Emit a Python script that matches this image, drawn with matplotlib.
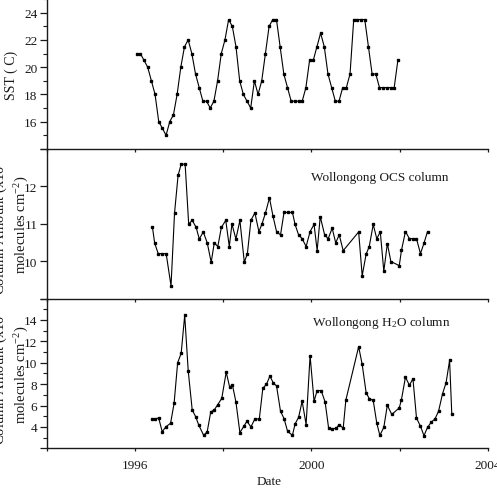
# SST and Wollongong OCS / H2O column time series, three stacked panels
import numpy as np
import matplotlib
matplotlib.use("Agg")
import matplotlib.pyplot as plt
from matplotlib.ticker import MultipleLocator

plt.rcParams['font.family'] = ['Liberation Serif', 'DejaVu Serif']
plt.rcParams['font.size'] = 9.5
plt.rcParams['mathtext.fontset'] = 'custom'
plt.rcParams['mathtext.rm'] = 'Liberation Serif'
plt.rcParams['mathtext.it'] = 'Liberation Serif:italic'

# SST, monthly from Jan 1996 to Dec 2001
sst_vals = [21, 21, 20.5, 20, 19, 18, 16, 15.5, 15, 16, 16.5, 18,
            20, 21.5, 22, 21, 19.5, 18.5, 17.5, 17.5, 17, 17.5, 19, 21,
            22, 23.5, 23, 21.5, 19, 18, 17.5, 17, 19, 18, 19, 21,
            23, 23.5, 23.5, 21.5, 19.5, 18.5, 17.5, 17.5, 17.5, 17.5, 18.5, 20.5,
            20.5, 21.5, 22.5, 21.5, 19.5, 18.5, 17.5, 17.5, 18.5, 18.5, 19.5, 23.5,
            23.5, 23.5, 23.5, 21.5, 19.5, 19.5, 18.5, 18.5, 18.5, 18.5, 18.5, 20.5]
sst_dates = 1996 + (np.arange(len(sst_vals)) + 0.5) / 12

# OCS column
ocs_dates = [1996.40, 1996.45, 1996.53, 1996.62, 1996.71, 1996.82, 1996.90, 1996.98,
             1997.05, 1997.14, 1997.22, 1997.30, 1997.39, 1997.46, 1997.55, 1997.64,
             1997.73, 1997.80, 1997.88, 1997.96,
             1998.06, 1998.14, 1998.20, 1998.29, 1998.38, 1998.48, 1998.55, 1998.63,
             1998.72, 1998.81, 1998.88, 1998.96,
             1999.05, 1999.13, 1999.21, 1999.30, 1999.38, 1999.48, 1999.57, 1999.63,
             1999.71, 1999.79, 1999.88, 1999.97,
             2000.06, 2000.13, 2000.20, 2000.30, 2000.38, 2000.47, 2000.55, 2000.63, 2000.72,
             2001.07, 2001.15, 2001.24, 2001.31, 2001.40, 2001.48, 2001.56, 2001.64,
             2001.72, 2001.80,
             2001.99, 2002.04, 2002.13, 2002.22, 2002.30, 2002.38, 2002.47, 2002.55, 2002.63]
ocs_vals = [10.90, 10.48, 10.20, 10.20, 10.20, 9.34, 11.29, 12.29,
            12.59, 12.59, 10.99, 11.09, 10.90, 10.59, 10.78, 10.49,
            9.97, 10.49, 10.39, 10.90,
            11.09, 10.39, 10.99, 10.59, 11.09, 9.97, 10.20, 11.09,
            11.29, 10.79, 10.99, 11.29,
            11.69, 11.20, 10.79, 10.70, 11.30, 11.30, 11.30, 10.98,
            10.70, 10.60, 10.39, 10.79,
            10.98, 10.28, 11.19, 10.70, 10.60, 10.88, 10.49, 10.70, 10.28,
            10.78, 9.61, 10.19, 10.39, 10.98, 10.60, 10.78, 9.73,
            10.47, 9.99,
            9.88, 10.29, 10.79, 10.60, 10.60, 10.60, 10.20, 10.48, 10.79]

# H2O column
h2o_dates = [1996.40, 1996.46, 1996.54, 1996.62, 1996.71, 1996.81, 1996.89, 1996.97,
             1997.05, 1997.13, 1997.21, 1997.30, 1997.38, 1997.45, 1997.56, 1997.64,
             1997.72, 1997.80, 1997.88, 1997.97,
             1998.07, 1998.15, 1998.21, 1998.29, 1998.38, 1998.47, 1998.54, 1998.63,
             1998.72, 1998.82, 1998.90, 1998.98,
             1999.06, 1999.14, 1999.21, 1999.30, 1999.38, 1999.46, 1999.57, 1999.63,
             1999.71, 1999.79, 1999.88, 1999.97,
             2000.06, 2000.13, 2000.22, 2000.31, 2000.39, 2000.47, 2000.56, 2000.63,
             2000.72, 2000.78,
             2001.07, 2001.15, 2001.24, 2001.31, 2001.40, 2001.48, 2001.55, 2001.64,
             2001.72, 2001.82,
             2001.99, 2002.04, 2002.13, 2002.22, 2002.30, 2002.38, 2002.47, 2002.55,
             2002.63, 2002.72, 2002.80, 2002.88, 2002.97, 2003.05, 2003.13, 2003.18]
h2o_vals = [4.75, 4.75, 4.84, 3.56, 4.03, 4.34, 6.21, 10.0,
            10.88, 14.44, 9.22, 5.59, 4.94, 4.15, 3.21, 3.56,
            5.41, 5.59, 6.09, 6.68,
            9.12, 7.69, 7.94, 6.34, 3.47, 4.06, 4.53, 4.00,
            4.75, 4.75, 7.62, 7.97,
            8.75, 8.09, 7.84, 5.46, 4.78, 3.59, 3.21, 4.28,
            4.90, 6.40, 4.22, 10.66,
            6.40, 7.40, 7.40, 6.34, 3.87, 3.81, 3.87, 4.22,
            3.87, 6.50,
            11.5, 9.84, 7.19, 6.65, 6.47, 4.37, 3.21, 3.96,
            6.03, 5.16,
            5.78, 6.56, 8.65, 7.90, 8.50, 4.84, 4.06, 3.18,
            3.96, 4.47, 4.75, 5.47, 7.10, 8.12, 10.22, 5.16]

fig = plt.figure(figsize=(4.97, 4.89), dpi=100)
left, width, h = 0.0936, 0.8883, 0.3062
ax1 = fig.add_axes([left, 0.0812 + 2 * h, width, h])
ax2 = fig.add_axes([left, 0.0812 + h, width, h])
ax3 = fig.add_axes([left, 0.0812, width, h])

ink = '#1a1a1a'
line_kw = dict(color='black', lw=0.8, marker='s', ms=2.0, mfc='black', mec='black')

ax1.plot(sst_dates, sst_vals, **line_kw)
ax2.plot(ocs_dates, ocs_vals, **line_kw)
ax3.plot(h2o_dates, h2o_vals, **line_kw)

# y axes
ax1.set_ylim(14, 25)
ax1.set_yticks([14, 16, 18, 20, 22, 24])
ax1.set_yticklabels(['', '16', '18', '20', '22', '24'])
ax1.yaxis.set_minor_locator(MultipleLocator(1))

ax2.set_ylim(9, 13)
ax2.set_yticks([9, 10, 11, 12, 13])
ax2.set_yticklabels(['', '10', '11', '12', ''])

ax3.set_ylim(2, 16)
ax3.set_yticks([2, 4, 6, 8, 10, 12, 14, 16])
ax3.set_yticklabels(['', '4', '6', '8', '10', '12', '14', ''])
ax3.yaxis.set_minor_locator(MultipleLocator(1))

for ax in (ax1, ax2, ax3):
    ax.set_xlim(1994, 2004)
    ax.set_xticks([1996, 2000, 2004])
    ax.xaxis.set_minor_locator(MultipleLocator(2))
    for s in ('top', 'right'):
        ax.spines[s].set_visible(False)
    for s in ('left', 'bottom'):
        ax.spines[s].set_linewidth(1.0)
        ax.spines[s].set_color(ink)
    ax.tick_params(axis='y', which='major', direction='out', length=4.8, width=0.9,
                   pad=1.8, colors=ink)
    ax.tick_params(axis='y', which='minor', direction='out', length=2.9, width=0.8,
                   colors=ink)
    ax.tick_params(axis='x', which='both', direction='out', length=2.5, width=0.9,
                   pad=5.5, colors=ink)
    ax.patch.set_alpha(0)

ax1.tick_params(axis='x', labelbottom=False)
ax2.tick_params(axis='x', labelbottom=False)

# labels
ax1.set_ylabel('SST ( C)', color=ink, fontsize=10)
ax1.yaxis.set_label_coords(-0.064, 0.5)

col_label = '{}\nmolecules cm$^{{-2}}$)'
ax2.set_ylabel(col_label.format('Column Amount (x10$^{16}$'), color=ink,
               fontsize=10.5, linespacing=1.2)
ax2.yaxis.set_label_coords(-0.036, 0.5)
ax3.set_ylabel(col_label.format('Column Amount (x10$^{22}$'), color=ink,
               fontsize=10.5, linespacing=1.2)
ax3.yaxis.set_label_coords(-0.036, 0.5)

ax3.set_xlabel('Date', color=ink)
ax3.xaxis.set_label_coords(0.505, -0.18)

ax2.text(0.755, 0.812, 'Wollongong OCS column', transform=ax2.transAxes,
         ha='center', va='center', color=ink)
ax3.text(0.759, 0.844, 'Wollongong H$_2$O column', transform=ax3.transAxes,
         ha='center', va='center', color=ink)

fig.savefig('out.png', dpi=100)
